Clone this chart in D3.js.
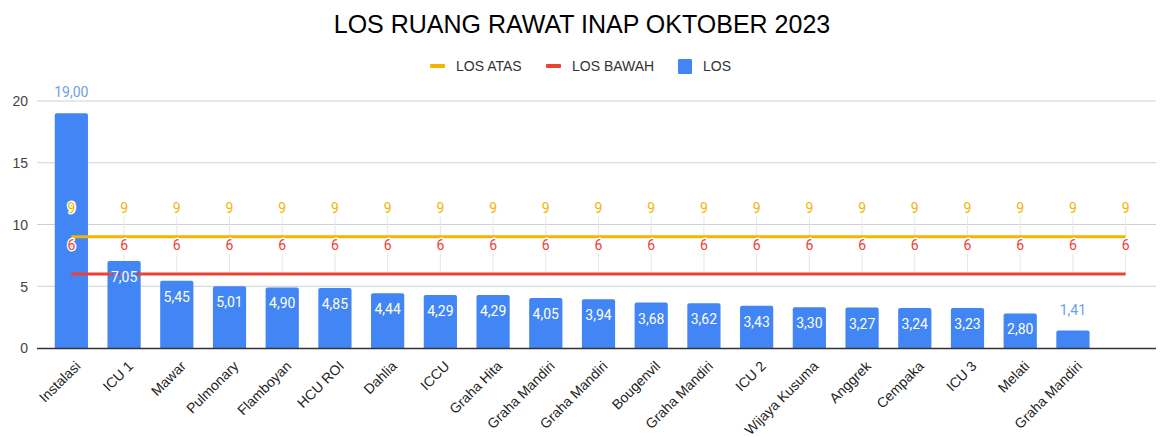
<!DOCTYPE html>
<html><head><meta charset="utf-8">
<script src="https://cdn.jsdelivr.net/npm/d3@7/dist/d3.min.js"></script>
<style>
html,body{margin:0;padding:0;background:#fff;}
svg{display:block;}
</style></head>
<body>
<svg id="chart" width="1160" height="437"></svg>
<script>
const categories = ["Instalasi","ICU 1","Mawar","Pulmonary","Flamboyan","HCU ROI","Dahlia","ICCU","Graha Hita","Graha Mandiri","Graha Mandiri","Bougenvil","Graha Mandiri","ICU 2","Wijaya Kusuma","Anggrek","Cempaka","ICU 3","Melati","Graha Mandiri",""];
const losValues = [19.00,7.05,5.45,5.01,4.90,4.85,4.44,4.29,4.29,4.05,3.94,3.68,3.62,3.43,3.30,3.27,3.24,3.23,2.80,1.41,null];
const losAtas = [9,9,9,9,9,9,9,9,9,9,9,9,9,9,9,9,9,9,9,9,9];
const losBawah = [6,6,6,6,6,6,6,6,6,6,6,6,6,6,6,6,6,6,6,6,6];
const yTicks = [0,5,10,15,20];
const title = "LOS RUANG RAWAT INAP OKTOBER 2023";
const legendItems = [{name:"LOS ATAS",type:"line",color:"#F4B400"},{name:"LOS BAWAH",type:"line",color:"#EA4335"},{name:"LOS",type:"rect",color:"#4285F4"}];

const svg = d3.select("#chart");
const barColor = "#4285F4", yellow = "#F4B400", red = "#EA4335";
const gridL = 37, gridR = 1156;
const x = d3.scaleBand().domain(d3.range(categories.length)).range([45, 1152]).paddingInner(0.37).paddingOuter(0.185);
const y = d3.scaleLinear().domain([0,20]).range([348, 101]);
const fmt = v => v.toFixed(2).replace(".", ",");

// title
svg.append("text").attr("x", 582).attr("y", 33).attr("text-anchor","middle")
  .attr("font-family","Liberation Sans, Arial, sans-serif").attr("font-size", 25).attr("fill","#000").text(title);

// legend
const lg = svg.append("g").attr("font-family","Liberation Sans, Arial, sans-serif").attr("font-size",14).attr("fill","#333");
const legendX = [430, 546, 678];
legendItems.forEach((it,i)=>{
  const gx = legendX[i];
  if(it.type==="line"){
    lg.append("rect").attr("x",gx).attr("y",64).attr("width",15).attr("height",4).attr("rx",1).attr("fill",it.color);
  } else {
    lg.append("rect").attr("x",gx).attr("y",59).attr("width",14).attr("height",15).attr("rx",1).attr("fill",it.color);
  }
  lg.append("text").attr("x",gx+(it.type==="line"?26:25)).attr("y",71).text(it.name);
});

// gridlines
svg.append("g").selectAll("line").data(yTicks.filter(d=>d>0)).join("line")
  .attr("x1",gridL).attr("x2",gridR).attr("y1",d=>y(d)).attr("y2",d=>y(d))
  .attr("stroke","#d0d0d0").attr("stroke-width",1);

// y axis labels
const yAxis = d3.axisLeft(y).tickValues(yTicks).tickSize(0).tickPadding(0);
const yg = svg.append("g").attr("transform","translate(28,0)").call(yAxis);
yg.select(".domain").remove();
yg.selectAll("text").attr("font-family","Liberation Sans, Arial, sans-serif").attr("font-size",14).attr("fill","#444").attr("dy","0.35em");

const cx = i => x(i) + x.bandwidth()/2;

// leader lines
const leaders = svg.append("g").attr("stroke","#e6e6e6").attr("stroke-width",1);
categories.forEach((c,i)=>{
  leaders.append("line").attr("x1",cx(i)).attr("x2",cx(i)).attr("y1",y(losAtas[i])-20).attr("y2",y(losAtas[i]));
  leaders.append("line").attr("x1",cx(i)).attr("x2",cx(i)).attr("y1",y(losBawah[i])-20).attr("y2",y(losBawah[i]));
});

// bars
const barData = losValues.map((v,i)=>({i,v})).filter(d=>d.v!==null);
svg.append("g").selectAll("path").data(barData).join("path")
  .attr("d", d => {
    const x0 = x(d.i), w = x.bandwidth(), y0 = y(d.v), y1 = y(0), r = 2;
    return `M${x0},${y1}V${y0+r}Q${x0},${y0} ${x0+r},${y0}H${x0+w-r}Q${x0+w},${y0} ${x0+w},${y0+r}V${y1}Z`;
  }).attr("fill", barColor);

// lines
const line = d3.line().x((d,i)=>cx(i)).y(d=>y(d));
svg.append("path").datum(losAtas).attr("d",line).attr("fill","none").attr("stroke",yellow).attr("stroke-width",3);
svg.append("path").datum(losBawah).attr("d",line).attr("fill","none").attr("stroke",red).attr("stroke-width",3);

// x axis baseline
svg.append("line").attr("x1",gridL).attr("x2",gridR).attr("y1",y(0)+0.5).attr("y2",y(0)+0.5).attr("stroke","#333").attr("stroke-width",1.5);

// bar labels
const bl = svg.append("g").attr("font-family","Roboto, sans-serif").attr("font-size",14).attr("text-anchor","middle");
barData.forEach(d=>{
  const inside = d.v > 2 && d.v < 15;
  const t = bl.append("text").attr("x",cx(d.i)).text(fmt(d.v));
  if(inside){
    t.attr("y", y(d.v)+21).attr("fill","#fff").attr("stroke",barColor).attr("stroke-width",3).attr("paint-order","stroke").attr("stroke-linejoin","round");
  } else {
    t.attr("y", y(d.v)-16).attr("fill","#6d9eeb");
  }
});

// line labels
const ll = svg.append("g").attr("font-family","Roboto, sans-serif").attr("font-size",14).attr("text-anchor","middle")
  .attr("stroke","#fff").attr("stroke-width",3).attr("paint-order","stroke").attr("stroke-linejoin","round");
categories.forEach((c,i)=>{
  ll.append("text").attr("x",cx(i)).attr("y",y(losAtas[i])-24).attr("fill",yellow).text(losAtas[i]);
  ll.append("text").attr("x",cx(i)).attr("y",y(losBawah[i])-24).attr("fill",red).text(losBawah[i]);
});

// x axis labels
const xAxis = d3.axisBottom(x).tickFormat(i=>categories[i]).tickSize(0).tickPadding(0);
const xg = svg.append("g").attr("transform",`translate(0,${y(0)})`).call(xAxis);
xg.select(".domain").remove();
xg.selectAll("text").attr("font-family","Liberation Sans, Arial, sans-serif").attr("font-size",14).attr("fill","#222")
  .attr("text-anchor","end").attr("dy","0").attr("y",0)
  .attr("transform","translate(10,19) rotate(-45)");
</script>
</body></html>
